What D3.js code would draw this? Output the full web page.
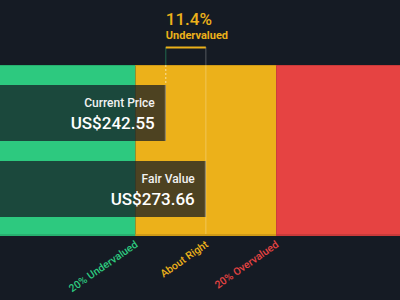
<!DOCTYPE html>
<html>
<head>
<meta charset="utf-8">
<script src="https://cdn.jsdelivr.net/npm/d3@7"></script>
<style>
  body { margin: 0; background: #151b24; }
  svg { display: block; font-family: Roboto, "Noto Sans", sans-serif; }
</style>
</head>
<body>
<div id="chart"></div>
<script>
var width = 400, height = 300;

// values
var fairValue = 273.66;
var currentPrice = 242.55;
var discountLabel = ["11.4%", "Undervalued"];
var bars = ["Current Price", "Fair Value"];
var barValues = [242.55, 273.66];
var zoneNames = ["20% Undervalued", "About Right", "20% Overvalued"];
var zoneStops = [0.8, 1.0, 1.2];   // label positions as multiple of fair value
var zoneColors = ["#2dc97f", "#ecb11a", "#e64342"];
var zoneEdge = ["#27b06f", "#cf9a16", "#c93a3a"];

var svg = d3.select("#chart")
  .append("svg")
  .attr("width", width)
  .attr("height", height);

svg.append("rect").attr("width", width).attr("height", height).attr("fill", "#151b24");

var x = d3.scaleLinear()
  .domain([fairValue * 0.415, fairValue * 1.552])
  .range([0, width]);

var y = d3.scaleBand()
  .domain(bars)
  .range([85, 217])
  .paddingInner(20 / 76)
  .paddingOuter(0);

var bandTop = 65, bandBottom = 236;

// colour zones
var zones = [
  [x.domain()[0], fairValue * 0.8],
  [fairValue * 0.8, fairValue * 1.2],
  [fairValue * 1.2, x.domain()[1]]
];
svg.selectAll(".zone")
  .data(zones)
  .enter()
  .append("rect")
  .attr("class", "zone")
  .attr("x", function(d) { return x(d[0]) })
  .attr("y", bandTop)
  .attr("width", function(d) { return x(d[1]) - x(d[0]) })
  .attr("height", bandBottom - bandTop)
  .attr("fill", function(d, i) { return zoneColors[i] });

svg.selectAll(".zoneTop")
  .data(zones)
  .enter()
  .append("rect")
  .attr("x", function(d) { return x(d[0]) })
  .attr("y", bandTop)
  .attr("width", function(d) { return x(d[1]) - x(d[0]) })
  .attr("height", 1)
  .attr("fill", function(d, i) { return zoneEdge[i] });

svg.selectAll(".zoneBottom")
  .data(zones)
  .enter()
  .append("rect")
  .attr("x", function(d) { return x(d[0]) })
  .attr("y", bandBottom - 2)
  .attr("width", function(d) { return x(d[1]) - x(d[0]) })
  .attr("height", 2)
  .attr("fill", function(d, i) { return zoneEdge[i] });

// light line at fair value through the band
svg.append("line")
  .attr("x1", x(fairValue)).attr("x2", x(fairValue))
  .attr("y1", 47).attr("y2", bandBottom - 2)
  .attr("stroke", "rgba(255,255,255,0.18)")
  .attr("stroke-width", 1.5);

// dashed line at current price
svg.append("line")
  .attr("x1", x(currentPrice)).attr("x2", x(currentPrice))
  .attr("y1", bandTop).attr("y2", y("Current Price"))
  .attr("stroke", "rgba(255,255,255,0.6)")
  .attr("stroke-dasharray", "2,2")
  .attr("stroke-width", 1);

svg.append("line")
  .attr("x1", x(currentPrice)).attr("x2", x(currentPrice))
  .attr("y1", 47).attr("y2", bandTop)
  .attr("stroke", "rgba(46,201,127,0.45)")
  .attr("stroke-width", 1);

// bracket
svg.append("line")
  .attr("x1", x(currentPrice)).attr("x2", x(fairValue))
  .attr("y1", 47.5).attr("y2", 47.5)
  .attr("stroke", "#ecb11a")
  .attr("stroke-width", 2);

// value bars
svg.selectAll(".bar")
  .data(barValues)
  .enter()
  .append("rect")
  .attr("class", "bar")
  .attr("x", x.range()[0])
  .attr("y", function(d, i) { return y(bars[i]) })
  .attr("width", function(d) { return x(d) })
  .attr("height", y.bandwidth())
  .attr("fill", "rgba(21,27,36,0.74)");

svg.selectAll(".barEdge")
  .data(barValues)
  .enter()
  .append("line")
  .attr("x1", function(d) { return x(d) - 0.5 })
  .attr("x2", function(d) { return x(d) - 0.5 })
  .attr("y1", function(d, i) { return y(bars[i]) })
  .attr("y2", function(d, i) { return y(bars[i]) + y.bandwidth() })
  .attr("stroke", "rgba(255,255,255,0.35)")
  .attr("stroke-width", 1);

svg.selectAll(".barName")
  .data(barValues)
  .enter()
  .append("text")
  .attr("x", function(d) { return x(d) - 11 })
  .attr("y", function(d, i) { return y(bars[i]) + 22 })
  .attr("text-anchor", "end")
  .attr("fill", "#f2f2f2")
  .style("font-size", "12px")
  .style("font-weight", 500)
  .text(function(d, i) { return bars[i] });

svg.selectAll(".barValue")
  .data(barValues)
  .enter()
  .append("text")
  .attr("x", function(d) { return x(d) - 11 })
  .attr("y", function(d, i) { return y(bars[i]) + 43.5 })
  .attr("text-anchor", "end")
  .attr("fill", "#ffffff")
  .style("font-size", "17px")
  .style("font-weight", 500)
  .text(function(d) { return "US$" + d3.format(".2f")(d) });

// discount label
svg.append("text")
  .attr("x", x(currentPrice))
  .attr("y", 25)
  .attr("fill", "#ecb11a")
  .style("font-size", "17px")
  .style("font-weight", 500)
  .text(discountLabel[0]);

svg.append("text")
  .attr("x", x(currentPrice))
  .attr("y", 38.5)
  .attr("fill", "#ecb11a")
  .style("font-size", "11px")
  .style("font-weight", 700)
  .text(discountLabel[1]);

// zone labels
svg.selectAll(".zoneLabel")
  .data(zoneNames)
  .enter()
  .append("text")
  .attr("text-anchor", "end")
  .attr("transform", function(d, i) {
    return "translate(" + (x(fairValue * zoneStops[i]) + 1) + "," + 243 + ") rotate(-35)";
  })
  .attr("dy", "0.35em")
  .attr("fill", function(d, i) { return zoneColors[i] })
  .style("font-size", "10.5px")
  .style("font-weight", 500)
  .text(function(d) { return d });
</script>
</body>
</html>
